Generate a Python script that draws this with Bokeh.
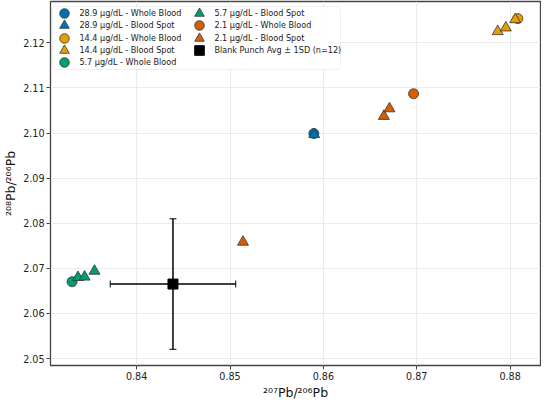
from bokeh.plotting import figure
from bokeh.models import (Legend, LegendItem, Whisker, ColumnDataSource, FixedTicker, TeeHead,
                          Range1d, NumeralTickFormatter, BoxAnnotation)
from bokeh.embed import file_html
from bokeh.resources import INLINE

# ---- data ----
wb289_x = [0.85898]; wb289_y = [2.0999]
bs289_x = [0.85902]; bs289_y = [2.0997]
wb144_x = [0.88083]; wb144_y = [2.1254]
bs144_x = [0.87868, 0.87955, 0.88055]; bs144_y = [2.12254, 2.12335, 2.12518]
wb57_x = [0.83308]; wb57_y = [2.06703]
bs57_x = [0.83371, 0.83442, 0.83548]; bs57_y = [2.0680, 2.0681, 2.0694]
wb21_x = [0.86966]; wb21_y = [2.10872]
bs21_x = [0.86648, 0.86708, 0.85139]; bs21_y = [2.10374, 2.10542, 2.07584]
blank_x = [0.84389]; blank_y = [2.06652]
blank_sd_x = [0.00672]; blank_sd_y = [0.01447]

labels = ["28.9 µg/dL - Whole Blood", "28.9 µg/dL - Blood Spot",
          "14.4 µg/dL - Whole Blood", "14.4 µg/dL - Blood Spot",
          "5.7 µg/dL - Whole Blood", "5.7 µg/dL - Blood Spot",
          "2.1 µg/dL - Whole Blood", "2.1 µg/dL - Blood Spot",
          "Blank Punch Avg ± 1SD (n=12)"]
x_ticks = [0.84, 0.85, 0.86, 0.87, 0.88]
y_ticks = [2.05, 2.06, 2.07, 2.08, 2.09, 2.10, 2.11, 2.12]

c_blue, c_orange, c_green, c_red = "#0072b2", "#e69f00", "#009e73", "#d55e00"

FW, FH = 490, 364
p = figure(frame_width=FW, frame_height=FH, output_backend="svg", toolbar_location=None,
           x_range=Range1d(0.83077, 0.88326), y_range=Range1d(2.04846, 2.12918),
           min_border_top=1, min_border_right=1, min_border_left=40, min_border_bottom=10)
p.background_fill_color = "white"
p.border_fill_color = "white"
p.outline_line_color = "#444444"
p.outline_line_width = 1.3

FONT = "DejaVu Sans"
for ax in (p.xaxis[0], p.yaxis[0]):
    ax.axis_line_color = None
    ax.major_tick_line_color = "#444444"
    ax.major_tick_out = 4
    ax.major_tick_in = 0
    ax.minor_tick_line_color = None
    ax.major_label_text_font = FONT
    ax.major_label_text_font_size = "9.6px"
    ax.major_label_text_color = "#222222"
    ax.axis_label_text_font = FONT
    ax.axis_label_text_font_size = "12.5px"
    ax.axis_label_text_font_style = "normal"
    ax.axis_label_text_color = "#111111"
    ax.major_label_standoff = 2
    ax.axis_label_standoff = 2
p.xaxis[0].ticker = FixedTicker(ticks=x_ticks)
p.yaxis[0].ticker = FixedTicker(ticks=y_ticks)
p.xaxis[0].axis_label = "²⁰⁷Pb/²⁰⁶Pb"
p.yaxis[0].axis_label = "²⁰⁸Pb/²⁰⁶Pb"
p.xaxis[0].formatter = NumeralTickFormatter(format="0.00")
p.yaxis[0].formatter = NumeralTickFormatter(format="0.00")
p.grid.grid_line_color = "#ebebeb"
p.grid.grid_line_width = 1

EC = "#333333"
EW = 0.8
r = []
r.append(p.scatter(wb289_x, wb289_y, marker="circle", size=10, fill_color=c_blue, line_color=EC, line_width=EW))
r.append(p.scatter(bs289_x, bs289_y, marker="triangle", size=11, fill_color=c_blue, line_color=EC, line_width=EW))
r.append(p.scatter(wb144_x, wb144_y, marker="circle", size=10, fill_color=c_orange, line_color=EC, line_width=EW))
r.append(p.scatter(bs144_x, bs144_y, marker="triangle", size=11, fill_color=c_orange, line_color=EC, line_width=EW))
r.append(p.scatter(wb57_x, wb57_y, marker="circle", size=10, fill_color=c_green, line_color=EC, line_width=EW))
r.append(p.scatter(bs57_x, bs57_y, marker="triangle", size=11, fill_color=c_green, line_color=EC, line_width=EW))
r.append(p.scatter(wb21_x, wb21_y, marker="circle", size=10, fill_color=c_red, line_color=EC, line_width=EW))
r.append(p.scatter(bs21_x, bs21_y, marker="triangle", size=11, fill_color=c_red, line_color=EC, line_width=EW))

# error bars for blank punch
src = ColumnDataSource(dict(
    x=blank_x, y=blank_y,
    xl=[blank_x[0] - blank_sd_x[0]], xu=[blank_x[0] + blank_sd_x[0]],
    yl=[blank_y[0] - blank_sd_y[0]], yu=[blank_y[0] + blank_sd_y[0]]))
for base, lo, up, dim in (("y", "xl", "xu", "width"), ("x", "yl", "yu", "height")):
    p.add_layout(Whisker(base=base, lower=lo, upper=up, dimension=dim, source=src,
                         line_color="black", line_width=1.5,
                         upper_head=TeeHead(size=7, line_color="black", line_width=1),
                         lower_head=TeeHead(size=7, line_color="black", line_width=1)))
r.append(p.scatter("x", "y", source=src, marker="square", size=10, fill_color="black", line_color="black"))

# ---- legend: a framed box holding 2 columns x 5 rows of items ----
BOX_L, BOX_T, BOX_R, BOX_B = 2, 5, 290, 68      # px from frame left / top
p.add_layout(BoxAnnotation(left=BOX_L, right=BOX_R, top=FH - BOX_T, bottom=FH - BOX_B,
                           left_units="screen", right_units="screen",
                           top_units="screen", bottom_units="screen",
                           fill_color="white", fill_alpha=0.85,
                           line_color="#cccccc", line_width=1, border_radius=3))
G = 24
COL_CX = [14.4, 149.4]          # marker centre, px from frame left
ROW_PITCH, ROW0 = 12.25, 12.2   # marker centre of first row, px from frame top
for i, (lab, rr) in enumerate(zip(labels, r)):
    col, row = divmod(i, 5)
    cy = ROW0 + row * ROW_PITCH
    leg = Legend(items=[LegendItem(label=lab, renderers=[rr])],
                 location=(COL_CX[col] - G / 2, FH - cy - G / 2))
    leg.label_text_font = FONT
    leg.label_text_font_size = "8.1px"
    leg.label_text_color = "#1a1a1a"
    leg.label_height = 10
    leg.glyph_height = G
    leg.glyph_width = G
    leg.label_standoff = 3
    leg.padding = 0
    leg.margin = 0
    leg.border_line_color = None
    leg.background_fill_alpha = 0
    p.add_layout(leg)

open("out.html", "w").write(file_html(p, INLINE))
